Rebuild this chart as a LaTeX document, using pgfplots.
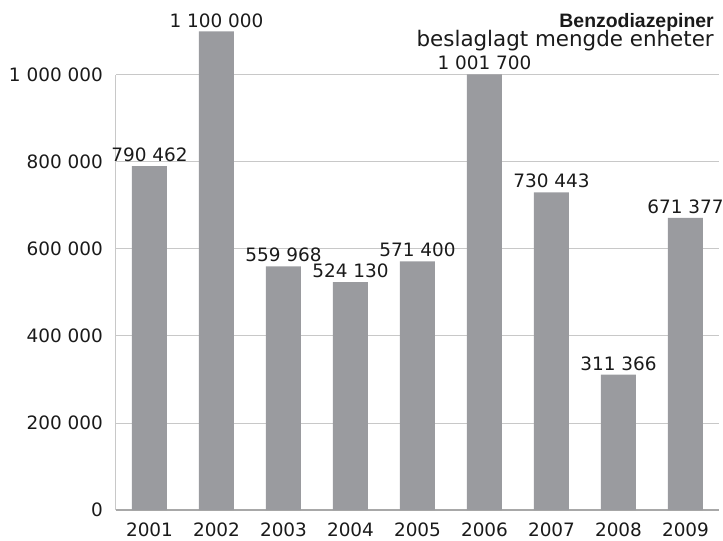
\documentclass[border=0pt]{standalone}
\usepackage{pgfplots}
\pgfplotsset{compat=1.18}
\usepackage{fontspec}
\setmainfont{DejaVu Sans}
\newfontfamily\titlefont{Liberation Sans}
\definecolor{barc}{HTML}{9A9B9F}
\definecolor{gridc}{HTML}{C8C8C8}
\definecolor{axc}{HTML}{A8A8A8}
\definecolor{txt}{HTML}{1A1A1A}
\begin{document}
\begin{tikzpicture}
\useasboundingbox (-116bp,-31bp) rectangle (607bp,510bp);
\begin{axis}[
  at={(0,0)}, anchor=south west,
  scale only axis, width=603bp, height=435bp,
  xmin=-0.5, xmax=8.5, ymin=0, ymax=1000000,
  clip=false,
  scaled y ticks=false,
  ybar, bar width=35bp,
  axis x line*=bottom, axis y line*=left,
  x axis line style={draw=axc, line width=2bp, -},
  y axis line style={draw=gridc, line width=1bp, -},
  ymajorgrids, grid style={draw=gridc, line width=1bp},
  major tick length=0pt,
  xtick={0,1,2,3,4,5,6,7,8},
  xticklabels={2001,2002,2003,2004,2005,2006,2007,2008,2009},
  ytick={0,200000,400000,600000,800000,1000000},
  yticklabels={0,200 000,400 000,600 000,800 000,1 000 000},
  tick label style={font=\fontsize{18.5}{22}\selectfont, text=txt, inner sep=0pt},
  yticklabel style={anchor=east, xshift=-13bp},
  xticklabel style={anchor=north, yshift=-13bp},
  nodes near coords,
  point meta=explicit symbolic,
  nodes near coords style={font=\fontsize{18.5}{22}\selectfont, text=txt, anchor=south, inner sep=0pt, yshift=4bp},
]
\addplot[fill=barc, draw=none] table[x=x, y=y, meta=lab, col sep=comma, row sep=\\] {
x,y,lab\\
0,790462,790 462\\
1,1100000,1 100 000\\
2,559968,559 968\\
3,524130,524 130\\
4,571400,571 400\\
5,1001700,1 001 700\\
6,730443,730 443\\
7,311366,311 366\\
8,671377,671 377\\
};
\node[anchor=base east, font=\titlefont\bfseries\fontsize{19.5}{22}\selectfont, text=txt, inner sep=0pt]
  at ([xshift=-5bp, yshift=47bp]rel axis cs:1,1) {Benzodiazepiner};
\node[anchor=base east, font=\fontsize{21.5}{24}\selectfont, text=txt, inner sep=0pt]
  at ([xshift=-5bp, yshift=28bp]rel axis cs:1,1) {beslaglagt mengde enheter};
\end{axis}
\end{tikzpicture}
\end{document}
